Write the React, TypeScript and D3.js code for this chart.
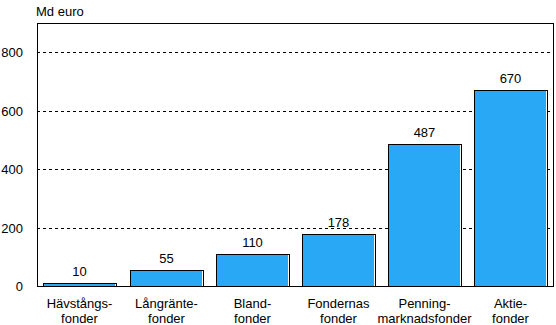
import React from "react";
import * as d3 from "d3";

const categories: string[][] = [
  ["Hävstångs-", "fonder"],
  ["Långränte-", "fonder"],
  ["Bland-", "fonder"],
  ["Fondernas", "fonder"],
  ["Penning-", "marknadsfonder"],
  ["Aktie-", "fonder"],
];
const values = [10, 55, 110, 178, 487, 670];
const yTicks = [0, 200, 400, 600, 800];
const unitLabel = "Md euro";

const W = 556;
const H = 325;
const m = { left: 37, right: 2, top: 23, bottom: 39 };

export default function App() {
  const x = d3
    .scaleBand<number>()
    .domain(values.map((_, i) => i))
    .range([m.left, W - m.right])
    .paddingInner(0.15)
    .paddingOuter(0.075);
  const y = d3.scaleLinear().domain([0, 900]).range([H - m.bottom, m.top]);
  const font = "Arial, 'Liberation Sans', sans-serif";
  return (
    <svg
      width={W}
      height={H}
      style={{ position: "absolute", left: 0, top: 0, background: "#fff" }}
      fontFamily={font}
      fontSize={13}
    >
      <text x={36} y={16}>{unitLabel}</text>
      {yTicks.map((t) => (
        <g key={t}>
          {t > 0 && (
            <line
              x1={m.left}
              x2={W - m.right}
              y1={Math.round(y(t)) + 0.5}
              y2={Math.round(y(t)) + 0.5}
              stroke="#000"
              strokeDasharray="3,3"
            />
          )}
          <text x={23} y={y(t) + 5} textAnchor="end">{t}</text>
        </g>
      ))}
      {values.map((v, i) => {
        const bx = Math.round(x(i)!);
        const bw = Math.round(x.bandwidth());
        const by = Math.round(y(v));
        const bh = Math.round(y(0)) - by;
        return (
          <g key={i}>
            <rect x={bx + 0.5} y={by + 0.5} width={bw} height={bh} fill="#29A8F5" stroke="#000" />
            <line x1={bx + bw - 0.5} x2={bx + bw - 0.5} y1={by + 1} y2={by + bh} stroke="#fff" />
            <text x={bx + bw / 2} y={by - 7} textAnchor="middle">{v}</text>
            {categories[i].map((line, j) => (
              <text key={j} x={bx + bw / 2} y={H - m.bottom + 22 + j * 15} textAnchor="middle">
                {line}
              </text>
            ))}
          </g>
        );
      })}
      <rect
        x={m.left + 0.5}
        y={m.top + 0.5}
        width={W - m.right - m.left - 1}
        height={H - m.bottom - m.top}
        fill="none"
        stroke="#000"
      />
    </svg>
  );
}
